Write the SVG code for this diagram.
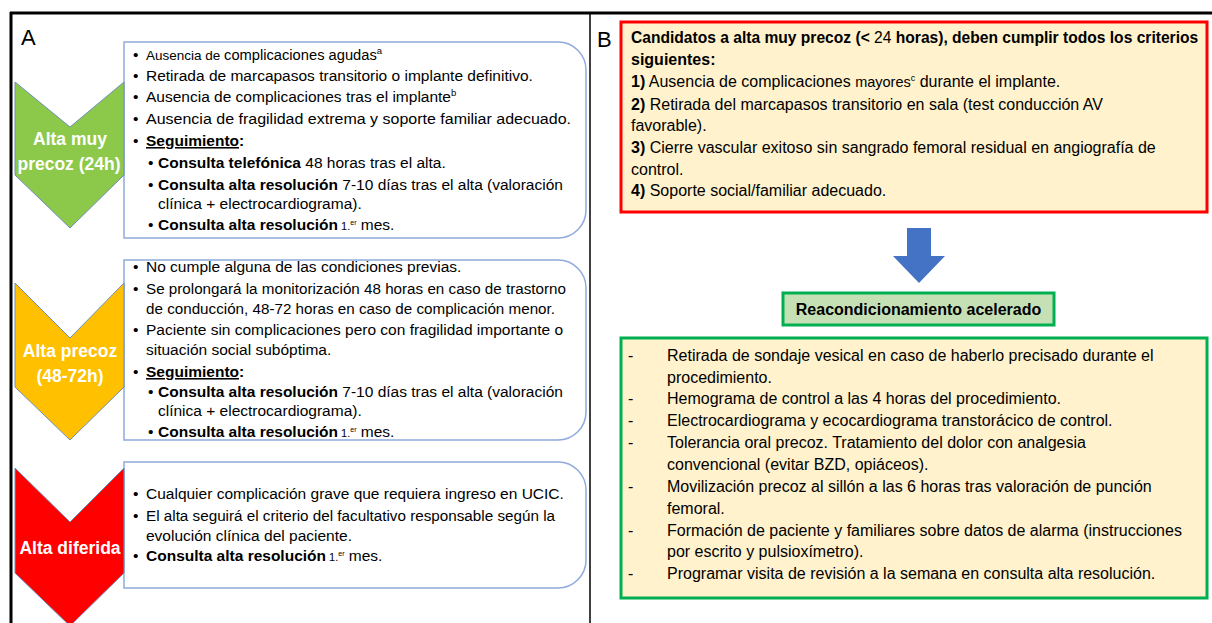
<svg xmlns="http://www.w3.org/2000/svg" width="1212" height="623" viewBox="0 0 1212 623">
<style>
.t{font-family:"Liberation Sans",Arial,sans-serif;font-size:15.5px;fill:#000}
.tb{font-family:"Liberation Sans",Arial,sans-serif;font-size:16px;fill:#000}
.b{font-weight:bold}
.u{text-decoration:underline}
.ch{font-family:"Liberation Sans",Arial,sans-serif;font-size:17.5px;font-weight:bold;fill:#fff;text-anchor:middle}
.lbl{font-family:"Liberation Sans",Arial,sans-serif;font-size:22px;fill:#000}
.box{fill:#fff;stroke:#8FAADC;stroke-width:1.5}
.chev{stroke:#6F8FB8;stroke-width:1}
</style>
<rect width="1212" height="623" fill="#fff"/>
<g id="frame" fill="none" stroke="#000">
<line x1="10" y1="13" x2="1212" y2="13" stroke-width="3"/>
<line x1="11" y1="12" x2="11" y2="623" stroke-width="3"/>
<line x1="590" y1="13" x2="590" y2="623" stroke-width="1.5"/>
</g>
<text class="lbl" x="21" y="45">A</text>
<text class="lbl" x="597" y="47">B</text>

<g id="box-muy-precoz">
<path class="box" d="M124,42 H558 A28,28 0 0 1 586,70 V210 A28,28 0 0 1 558,238 H124 Z"/>
<text class="t"><tspan x="133" y="60">•</tspan><tspan x="146" y="60" font-size="13.5">Ausencia de </tspan><tspan font-size="14.7">complicaciones agudas</tspan><tspan font-size="9.5" dy="-6">a</tspan></text>
<text class="t"><tspan x="133" y="81">•</tspan><tspan x="146" y="81">Retirada de marcapasos transitorio o implante definitivo.</tspan></text>
<text class="t"><tspan x="133" y="102">•</tspan><tspan x="146" y="102">Ausencia de complicaciones tras el implante</tspan><tspan font-size="9.5" dy="-6">b</tspan></text>
<text class="t" x="133" y="124">•</text>
<text class="t" x="146" y="124" textLength="425" lengthAdjust="spacingAndGlyphs">Ausencia de fragilidad extrema y soporte familiar adecuado.</text>
<text class="t"><tspan x="133" y="146">•</tspan><tspan x="146" y="146" class="b u">Seguimiento</tspan><tspan class="b">:</tspan></text>
<text class="t"><tspan x="148" y="168">•</tspan><tspan x="158" y="168" class="b">Consulta telefónica</tspan><tspan> 48 horas tras el alta.</tspan></text>
<text class="t"><tspan x="148" y="190">•</tspan><tspan x="158" y="190" class="b">Consulta alta resolución</tspan><tspan> 7-10 días tras el alta (valoración</tspan></text>
<text class="t" x="158" y="209">clínica + electrocardiograma).</text>
<text class="t"><tspan x="148" y="230">•</tspan><tspan x="158" y="230" class="b">Consulta alta resolución</tspan><tspan font-size="11"> 1.</tspan><tspan font-size="7" dy="-5">er</tspan><tspan dy="5"> mes.</tspan></text>
</g>
<g id="node-muy-precoz">
<polygon class="chev" fill="#8CC94B" points="15,82 70,127 124,82 124,175 70,228 15,175"/>
<text class="ch" x="70" y="145">Alta muy</text>
<text class="ch" x="69" y="170">precoz (24h)</text>
</g>

<g id="box-precoz">
<path class="box" d="M124,260 H558 A28,28 0 0 1 586,288 V412 A28,28 0 0 1 558,440 H124 Z"/>
<text class="t"><tspan x="133" y="272">•</tspan><tspan x="146" y="272">No cumple alguna de las condiciones previas.</tspan></text>
<text class="t" x="133" y="294">•</text>
<text class="t" x="146" y="294" textLength="420" lengthAdjust="spacingAndGlyphs">Se prolongará la monitorización 48 horas en caso de trastorno</text>
<text class="t" x="146" y="314" textLength="409" lengthAdjust="spacingAndGlyphs">de conducción, 48-72 horas en caso de complicación menor.</text>
<text class="t"><tspan x="133" y="335">•</tspan><tspan x="146" y="335">Paciente sin complicaciones pero con fragilidad importante o</tspan></text>
<text class="t" x="146" y="355">situación social subóptima.</text>
<text class="t"><tspan x="133" y="377">•</tspan><tspan x="146" y="377" class="b u">Seguimiento</tspan><tspan class="b">:</tspan></text>
<text class="t"><tspan x="148" y="397">•</tspan><tspan x="158" y="397" class="b">Consulta alta resolución</tspan><tspan> 7-10 días tras el alta (valoración</tspan></text>
<text class="t" x="158" y="416">clínica + electrocardiograma).</text>
<text class="t"><tspan x="148" y="437">•</tspan><tspan x="158" y="437" class="b">Consulta alta resolución</tspan><tspan font-size="11"> 1.</tspan><tspan font-size="7" dy="-5">er</tspan><tspan dy="5"> mes.</tspan></text>
</g>
<g id="node-precoz">
<polygon class="chev" fill="#FFC000" points="15,283 70,338 124,283 124,387 70,440 15,387"/>
<text class="ch" x="70" y="357">Alta precoz</text>
<text class="ch" x="70" y="382">(48-72h)</text>
</g>

<g id="box-diferida">
<path class="box" d="M124,462 H558 A28,28 0 0 1 586,490 V560 A28,28 0 0 1 558,588 H124 Z"/>
<text class="t"><tspan x="133" y="499">•</tspan><tspan x="146" y="499">Cualquier complicación grave que requiera ingreso en UCIC.</tspan></text>
<text class="t" x="133" y="521">•</text>
<text class="t" x="146" y="521" textLength="409" lengthAdjust="spacingAndGlyphs">El alta seguirá el criterio del facultativo responsable según la</text>
<text class="t" x="146" y="541">evolución clínica del paciente.</text>
<text class="t"><tspan x="133" y="561">•</tspan><tspan x="146" y="561" class="b">Consulta alta resolución</tspan><tspan font-size="11"> 1.</tspan><tspan font-size="7" dy="-5">er</tspan><tspan dy="5"> mes.</tspan></text>
</g>
<g id="node-diferida">
<polygon class="chev" fill="#FF0000" points="15,468 70,522 124,468 124,573 70,626 15,573"/>
<text class="ch" x="70" y="554">Alta diferida</text>
</g>

<g id="node-candidatos">
<rect x="621" y="22" width="586" height="190" fill="#FFF2CC" stroke="#FF0000" stroke-width="3"/>
<text class="tb" x="631" y="43"><tspan class="b" font-size="15.6">Candidatos a alta muy precoz (&lt; </tspan><tspan font-size="15.6">24</tspan><tspan class="b" font-size="15.6"> horas), deben cumplir todos los criterios</tspan></text>
<text class="tb b" x="631" y="65" font-size="15.6">siguientes:</text>
<text class="tb" x="631" y="87"><tspan class="b">1)</tspan> Ausencia de complicaciones <tspan font-size="14.5">mayores</tspan><tspan font-size="9" dy="-6">c</tspan><tspan dy="6">   durante  el implante.</tspan></text>
<text class="tb" x="631" y="110"><tspan class="b">2)</tspan> Retirada del marcapasos transitorio en sala (test conducción AV</text>
<text class="tb" x="631" y="131">favorable).</text>
<text class="tb" x="631" y="153"><tspan class="b">3)</tspan> Cierre vascular exitoso sin sangrado femoral residual en angiografía de</text>
<text class="tb" x="631" y="175">control.</text>
<text class="tb" x="631" y="196"><tspan class="b">4)</tspan> Soporte social/familiar adecuado.</text>
</g>

<g id="connectors">
<polygon fill="#4472C4" points="907,228 931,228 931,256 945,256 919,283 893,256 907,256"/>
</g>

<g id="node-reacondicionamiento">
<rect x="783" y="293" width="271" height="32" fill="#C5E0B4" stroke="#00B050" stroke-width="3"/>
<text class="tb b" x="918.5" y="315" font-size="15.6" text-anchor="middle">Reacondicionamiento acelerado</text>
</g>

<g id="node-medidas">
<rect x="621" y="338" width="586" height="260" fill="#FFF2CC" stroke="#00B050" stroke-width="3"/>
<text class="tb" x="628" y="361">-</text><text class="tb" x="667" y="361">Retirada de sondaje vesical en caso de haberlo precisado durante el</text>
<text class="tb" x="667" y="383">procedimiento.</text>
<text class="tb" x="628" y="404">-</text><text class="tb" x="667" y="404">Hemograma de control a las 4 horas del procedimiento.</text>
<text class="tb" x="628" y="426">-</text><text class="tb" x="667" y="426">Electrocardiograma y ecocardiograma transtorácico de control.</text>
<text class="tb" x="628" y="448">-</text><text class="tb" x="667" y="448">Tolerancia oral precoz. Tratamiento del dolor con analgesia</text>
<text class="tb" x="667" y="470">convencional (evitar BZD, opiáceos).</text>
<text class="tb" x="628" y="492">-</text><text class="tb" x="667" y="492">Movilización precoz al sillón a las 6 horas tras valoración de punción</text>
<text class="tb" x="667" y="514">femoral.</text>
<text class="tb" x="628" y="536">-</text><text class="tb" x="667" y="536">Formación de paciente y familiares sobre datos de alarma (instrucciones</text>
<text class="tb" x="667" y="557">por escrito y pulsioxímetro).</text>
<text class="tb" x="628" y="579">-</text><text class="tb" x="667" y="579">Programar visita de revisión a la semana en consulta alta resolución.</text>
</g>
</svg>
